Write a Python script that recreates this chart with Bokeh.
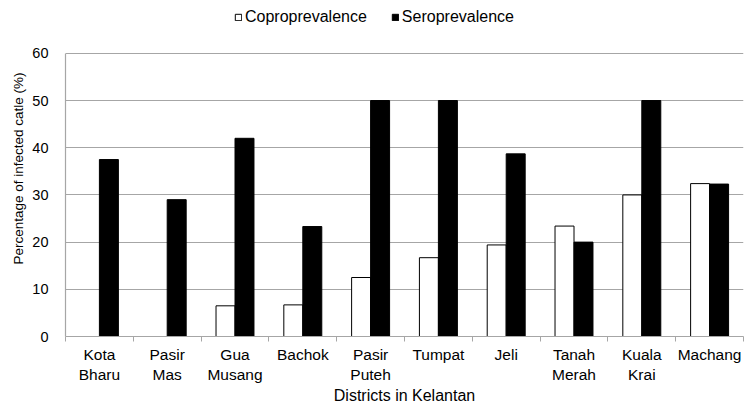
from bokeh.plotting import figure
from bokeh.models import ColumnDataSource, FixedTicker, Legend, LegendItem, Range1d
from bokeh.embed import file_html
from bokeh.resources import INLINE

districts = ["Kota\nBharu", "Pasir\nMas", "Gua\nMusang", "Bachok", "Pasir\nPuteh",
             "Tumpat", "Jeli", "Tanah\nMerah", "Kuala\nKrai", "Machang"]
copro = [0, 0, 6.5, 6.7, 12.5, 16.7, 19.4, 23.4, 30.0, 32.4]
sero = [37.5, 29.0, 42.0, 23.3, 50.0, 50.0, 38.7, 20.0, 50.0, 32.3]
y_ticks = [0, 10, 20, 30, 40, 50, 60]

idx = list(range(len(districts)))
centers = [i + 0.5 for i in idx]
bw = 0.28
src = ColumnDataSource(dict(
    xc=[c - bw / 2 for c in centers],
    xs=[c + bw / 2 for c in centers],
    copro=copro, sero=sero))

FONT = "Liberation Sans"
p = figure(width=744, height=406, output_backend="svg", toolbar_location=None,
           x_range=Range1d(0, len(districts)), y_range=Range1d(0, 71.2),
           min_border_left=65, min_border_right=1, min_border_top=0, min_border_bottom=0)
p.outline_line_color = None
p.background_fill_color = "white"

r1 = p.vbar(x="xc", top="copro", width=bw, source=src, fill_color="white",
            line_color="black", line_width=1)
r2 = p.vbar(x="xs", top="sero", width=bw, source=src, fill_color="black",
            line_color="black", line_width=1)

p.xgrid.grid_line_color = None
p.ygrid.grid_line_color = "#a6a6a6"
p.ygrid.grid_line_width = 1.2
p.yaxis.ticker = FixedTicker(ticks=y_ticks)
p.yaxis.bounds = (0, 60)
p.yaxis.axis_line_color = "#a6a6a6"
p.yaxis.axis_line_width = 1.2
p.yaxis.major_tick_line_color = None
p.yaxis.minor_tick_line_color = None
p.yaxis.major_label_text_font = FONT
p.yaxis.major_label_text_font_size = "14.5px"
p.yaxis.major_label_text_color = "black"
p.yaxis.major_label_standoff = 11
p.yaxis.axis_label = "Percentage of infected catle (%)"
p.yaxis.axis_label_text_font = FONT
p.yaxis.axis_label_text_font_size = "13.5px"
p.yaxis.axis_label_text_font_style = "normal"
p.yaxis.axis_label_text_color = "black"
p.yaxis.axis_label_standoff = 3

p.xaxis.ticker = FixedTicker(ticks=centers, minor_ticks=list(range(len(districts) + 1)))
p.xaxis.major_label_overrides = {c: d for c, d in zip(centers, districts)}
p.xaxis.major_tick_line_color = None
p.xaxis.minor_tick_line_color = "#a6a6a6"
p.xaxis.minor_tick_out = 5
p.xaxis.minor_tick_in = 0
p.xaxis.axis_line_color = "#a6a6a6"
p.xaxis.axis_line_width = 1.2
p.xaxis.major_label_text_font = FONT
p.xaxis.major_label_text_font_size = "15.5px"
p.xaxis.major_label_text_line_height = 1.2
p.xaxis.major_label_text_color = "black"
p.xaxis.major_label_standoff = 3
p.xaxis.axis_label = "Districts in Kelantan"
p.xaxis.axis_label_text_font = FONT
p.xaxis.axis_label_text_font_size = "16px"
p.xaxis.axis_label_text_line_height = 1.0
p.xaxis.axis_label_text_font_style = "normal"
p.xaxis.axis_label_text_color = "black"
p.xaxis.axis_label_standoff = 1

legend = Legend(items=[LegendItem(label="Coproprevalence", renderers=[r1]),
                       LegendItem(label="Seroprevalence", renderers=[r2])],
                orientation="horizontal", location=(169, 310),
                label_text_font=FONT, label_text_font_size="16px",
                label_text_color="black",
                glyph_width=8, glyph_height=8, label_standoff=3, spacing=24,
                border_line_color=None, background_fill_alpha=0,
                padding=2, margin=0)
p.add_layout(legend, "center")

open("out.html", "w").write(file_html(p, INLINE))
